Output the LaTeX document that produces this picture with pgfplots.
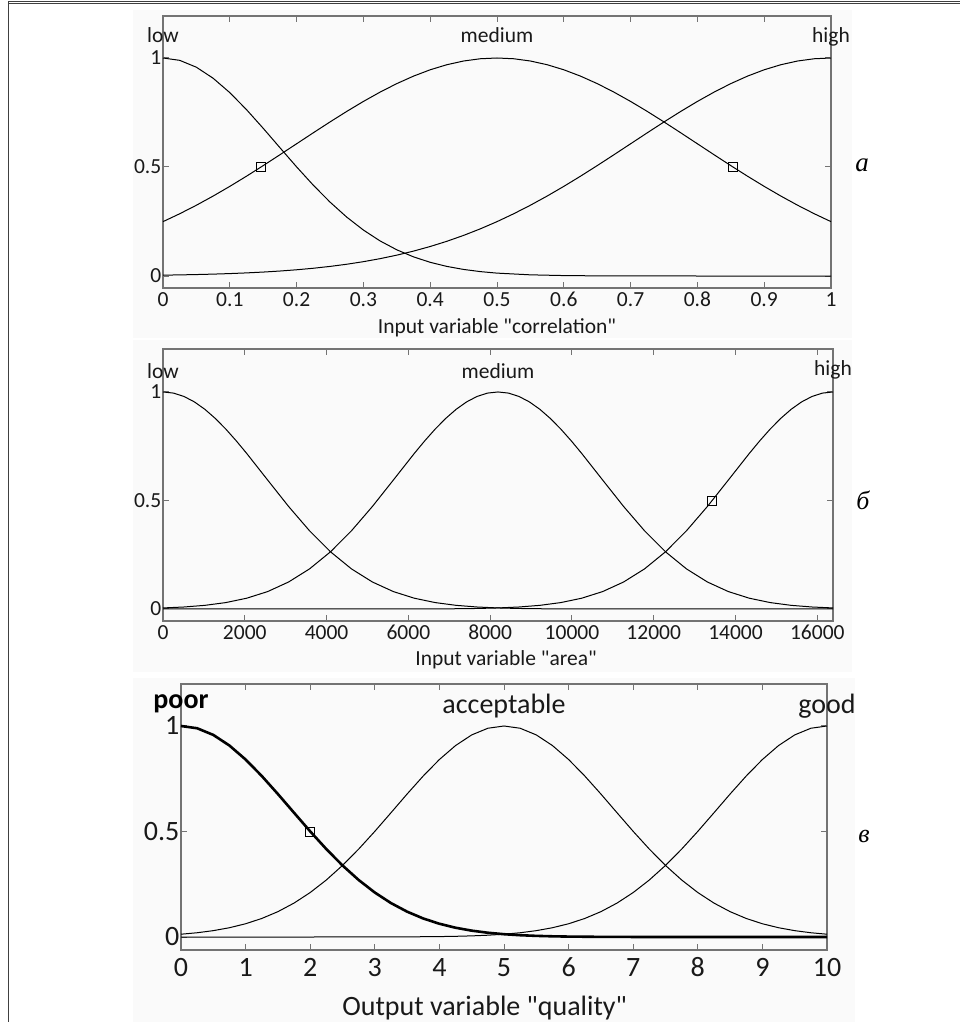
\documentclass[border=0pt]{standalone}
\usepackage{fontspec}
\setmainfont{Carlito}[Ligatures=TeXOff]
\newfontfamily\serifcyr{Liberation Serif}
\usepackage{pgfplots}
\pgfplotsset{compat=1.18}

\pgfplotsset{
  mfaxis/.style={
    scale only axis, clip=false, anchor=south west,
    axis line style={black!55, line width=1.2bp},
    tick style={black!55, line width=1bp},
    tick align=inside, major tick length=6bp,
    ytick={0,0.5,1}, yticklabels={0,0.5,1},
    /pgf/number format/assume math mode=true,
    every tick label/.append style={text=black!90},
    yticklabel style={inner xsep=1.5bp},
  },
  mf/.style={black, line width=1bp, no marks},
  sel/.style={only marks, mark=square, mark size=4.5bp, mark options={black, line width=0.9bp, fill=none}},
}
\newcommand{\fa}{\fontsize{21.5bp}{25bp}\selectfont}
\newcommand{\fc}{\fontsize{28bp}{33bp}\selectfont}

\begin{document}
\begin{tikzpicture}
\path[use as bounding box] (0,0) rectangle (960bp,1022bp);
% faint panel backgrounds
\fill[black!2] (133bp,684bp) rectangle (852bp,1012bp);
\fill[black!2] (133bp,350bp) rectangle (852bp,682bp);
\fill[black!2] (133bp,0bp) rectangle (855bp,344bp);
% frame
\draw[black!75, line width=0.8bp] (8bp,0bp) -- (8bp,1020bp);
\draw[black!75, line width=0.6bp] (8bp,1021bp) -- (960bp,1021bp);
\draw[black!75, line width=0.6bp] (8bp,1019bp) -- (960bp,1019bp);

% ---------------- panel a ----------------
\begin{axis}[mfaxis, at={(163bp,734bp)}, width=668bp, height=272bp,
  xmin=0, xmax=1, ymin=-0.055, ymax=1.1927,
  xtick={0,0.1,0.2,0.3,0.4,0.5,0.6,0.7,0.8,0.9,1},
  xticklabels={0,0.1,0.2,0.3,0.4,0.5,0.6,0.7,0.8,0.9,1},
  ticklabel style={font=\fa},
  xticklabel style={text height=13.5bp, text depth=0bp, inner ysep=4.5bp},
  xlabel={Input variable "correlation"},
  xlabel style={at={(axis description cs:0.5,-0.145)}, anchor=center, font=\fa, text=black!90}]
\addplot[mf] coordinates {(0,1) (0.025,0.98925) (0.05,0.95767) (0.075,0.90726) (0.1,0.84113) (0.125,0.76316) (0.15,0.67757) (0.175,0.58870) (0.2,0.50056) (0.225,0.41652) (0.25,0.33914) (0.275,0.27026) (0.3,0.21076) (0.325,0.16082) (0.35,0.12012) (0.375,0.08777) (0.4,0.06277) (0.425,0.04394) (0.45,0.03010) (0.475,0.02017) (0.5,0.01322) (0.55,0.00533) (0.6,0.00197) (0.65,0.00067) (0.7,0.00021) (0.8,0) (0.9,0) (1,0)};
\addplot[mf] coordinates {(0,0.24935) (0.025,0.28551) (0.05,0.32465) (0.075,0.36661) (0.1,0.41111) (0.125,0.45783) (0.15,0.50634) (0.175,0.55611) (0.2,0.60653) (0.225,0.65695) (0.25,0.70665) (0.275,0.75484) (0.3,0.80074) (0.325,0.84355) (0.35,0.88250) (0.375,0.91685) (0.4,0.94596) (0.425,0.96923) (0.45,0.98621) (0.475,0.99653) (0.5,1) (0.525,0.99653) (0.55,0.98621) (0.575,0.96923) (0.6,0.94596) (0.625,0.91685) (0.65,0.88250) (0.675,0.84355) (0.7,0.80074) (0.725,0.75484) (0.75,0.70665) (0.775,0.65695) (0.8,0.60653) (0.825,0.55611) (0.85,0.50634) (0.875,0.45783) (0.9,0.41111) (0.925,0.36661) (0.95,0.32465) (0.975,0.28551) (1,0.24935)};
\addplot[mf] coordinates {(0,0.00387) (0.025,0.00509) (0.05,0.00665) (0.075,0.00863) (0.1,0.01111) (0.125,0.01422) (0.15,0.01806) (0.175,0.02278) (0.2,0.02857) (0.225,0.03556) (0.25,0.04394) (0.275,0.05393) (0.3,0.06571) (0.325,0.07956) (0.35,0.09565) (0.375,0.11417) (0.4,0.13534) (0.425,0.15929) (0.45,0.18627) (0.475,0.21627) (0.5,0.24935) (0.525,0.28551) (0.55,0.32465) (0.575,0.36661) (0.6,0.41111) (0.625,0.45783) (0.65,0.50634) (0.675,0.55611) (0.7,0.60653) (0.725,0.65695) (0.75,0.70665) (0.775,0.75484) (0.8,0.80074) (0.825,0.84355) (0.85,0.88250) (0.875,0.91685) (0.9,0.94596) (0.925,0.96923) (0.95,0.98621) (0.975,0.99653) (1,1)};
\addplot[sel] coordinates {(0.147,0.5) (0.853,0.5)};
\node[anchor=base, font=\fa, text=black!90] at (axis cs:0,1.07) {low};
\node[anchor=base, font=\fa, text=black!90] at (axis cs:0.5,1.07) {medium};
\node[anchor=base, font=\fa, text=black!90] at (axis cs:1,1.07) {high};
\end{axis}

% ---------------- panel b ----------------
\begin{axis}[mfaxis, at={(163bp,401bp)}, width=670bp, height=272bp,
  xmin=0, xmax=16384, ymin=-0.0553, ymax=1.198,
  xtick={0,2000,4000,6000,8000,10000,12000,14000,16000},
  xticklabels={0,2000,4000,6000,8000,10000,12000,14000,16000},
  scaled x ticks=false,
  ticklabel style={font=\fa},
  xticklabel style={text height=13.5bp, text depth=0bp, inner ysep=4.5bp},
  xlabel={Input variable "area"},
  xlabel style={at={(axis description cs:0.512,-0.143)}, anchor=center, font=\fa, text=black!90}]
\addplot[mf] coordinates {(0,1) (256,0.99480) (512,0.97938) (768,0.95420) (1024,0.92003) (1280,0.87788) (1536,0.82899) (1792,0.77470) (2048,0.71650) (2560,0.59398) (3072,0.47229) (3584,0.36021) (4096,0.26354) (4608,0.18489) (5120,0.12446) (5632,0.08034) (6144,0.04975) (6656,0.02955) (7168,0.01683) (7680,0.00920) (8192,0.00482) (8704,0.00242) (9216,0.00117) (9728,0.00054) (10240,0.00024) (11264,0) (16384,0)};
\addplot[mf] coordinates {(0,0.00482) (512,0.00920) (1024,0.01683) (1536,0.02955) (2048,0.04975) (2560,0.08034) (3072,0.12446) (3584,0.18489) (4096,0.26354) (4608,0.36021) (5120,0.47229) (5632,0.59398) (6144,0.71650) (6400,0.77470) (6656,0.82899) (6912,0.87788) (7168,0.92003) (7424,0.95420) (7680,0.97938) (7936,0.99480) (8192,1) (8448,0.99480) (8704,0.97938) (8960,0.95420) (9216,0.92003) (9472,0.87788) (9728,0.82899) (9984,0.77470) (10240,0.71650) (10752,0.59398) (11264,0.47229) (11776,0.36021) (12288,0.26354) (12800,0.18489) (13312,0.12446) (13824,0.08034) (14336,0.04975) (14848,0.02955) (15360,0.01683) (15872,0.00920) (16384,0.00482)};
\addplot[mf] coordinates {(0,0) (5120,0) (6144,0.00024) (6656,0.00054) (7168,0.00117) (7680,0.00242) (8192,0.00482) (8704,0.00920) (9216,0.01683) (9728,0.02955) (10240,0.04975) (10752,0.08034) (11264,0.12446) (11776,0.18489) (12288,0.26354) (12800,0.36021) (13312,0.47229) (13824,0.59398) (14336,0.71650) (14592,0.77470) (14848,0.82899) (15104,0.87788) (15360,0.92003) (15616,0.95420) (15872,0.97938) (16128,0.99480) (16384,1)};
\addplot[sel] coordinates {(13431,0.5)};
\node[anchor=base, font=\fa, text=black!90] at (axis cs:0,1.064) {low};
\node[anchor=base, font=\fa, text=black!90] at (axis cs:8192,1.064) {medium};
\node[anchor=base, font=\fa, text=black!90] at (axis cs:16384,1.078) {high};
\end{axis}

% ---------------- panel c ----------------
\begin{axis}[mfaxis, at={(181bp,72bp)}, width=646bp, height=266bp,
  xmin=0, xmax=10, ymin=-0.0616, ymax=1.199,
  xtick={0,1,2,3,4,5,6,7,8,9,10},
  xticklabels={0,1,2,3,4,5,6,7,8,9,10},
  ticklabel style={font=\fc},
  xticklabel style={text height=17.7bp, text depth=0bp, inner ysep=8.5bp},
  xlabel={Output variable "quality"},
  xlabel style={at={(axis description cs:0.47,-0.22)}, anchor=center, font=\fc, text=black!90}]
\addplot[mf] coordinates {(0,0.01322) (0.25,0.02017) (0.5,0.03010) (0.75,0.04394) (1,0.06277) (1.25,0.08777) (1.5,0.12012) (1.75,0.16082) (2,0.21076) (2.25,0.27026) (2.5,0.33914) (2.75,0.41652) (3,0.50056) (3.25,0.58870) (3.5,0.67757) (3.75,0.76316) (4,0.84113) (4.25,0.90726) (4.5,0.95767) (4.75,0.98925) (5,1) (5.25,0.98925) (5.5,0.95767) (5.75,0.90726) (6,0.84113) (6.25,0.76316) (6.5,0.67757) (6.75,0.58870) (7,0.50056) (7.25,0.41652) (7.5,0.33914) (7.75,0.27026) (8,0.21076) (8.25,0.16082) (8.5,0.12012) (8.75,0.08777) (9,0.06277) (9.25,0.04394) (9.5,0.03010) (9.75,0.02017) (10,0.01322)};
\addplot[mf] coordinates {(0,0) (2,0) (2.5,0.00006) (3,0.00021) (3.5,0.00067) (4,0.00197) (4.25,0.00328) (4.5,0.00533) (4.75,0.00850) (5,0.01322) (5.25,0.02017) (5.5,0.03010) (5.75,0.04394) (6,0.06277) (6.25,0.08777) (6.5,0.12012) (6.75,0.16082) (7,0.21076) (7.25,0.27026) (7.5,0.33914) (7.75,0.41652) (8,0.50056) (8.25,0.58870) (8.5,0.67757) (8.75,0.76316) (9,0.84113) (9.25,0.90726) (9.5,0.95767) (9.75,0.98925) (10,1)};
\addplot[black, line width=2.6bp, no marks] coordinates {(0,1) (0.25,0.98925) (0.5,0.95767) (0.75,0.90726) (1,0.84113) (1.25,0.76316) (1.5,0.67757) (1.75,0.58870) (2,0.50056) (2.25,0.41652) (2.5,0.33914) (2.75,0.27026) (3,0.21076) (3.25,0.16082) (3.5,0.12012) (3.75,0.08777) (4,0.06277) (4.25,0.04394) (4.5,0.03010) (4.75,0.02017) (5,0.01322) (5.25,0.00850) (5.5,0.00533) (5.75,0.00328) (6,0.00197) (6.5,0.00067) (7,0.00021) (7.5,0.00006) (8,0) (10,0)};
\addplot[sel] coordinates {(2,0.5)};
\node[anchor=base, font=\fc\bfseries, text=black] at (axis cs:0,1.085) {poor};
\node[anchor=base, font=\fc, text=black!90] at (axis cs:5,1.06) {acceptable};
\node[anchor=base, font=\fc, text=black!90] at (axis cs:10,1.06) {good};
\end{axis}

% side letters
\node[font=\serifcyr\itshape\fontsize{27bp}{30bp}\selectfont] at (862bp,857bp) {а};
\node[font=\serifcyr\itshape\fontsize{26bp}{30bp}\selectfont] at (863bp,522bp) {б};
\node[font=\serifcyr\itshape\fontsize{26bp}{30bp}\selectfont] at (864bp,186bp) {в};
\end{tikzpicture}
\end{document}
